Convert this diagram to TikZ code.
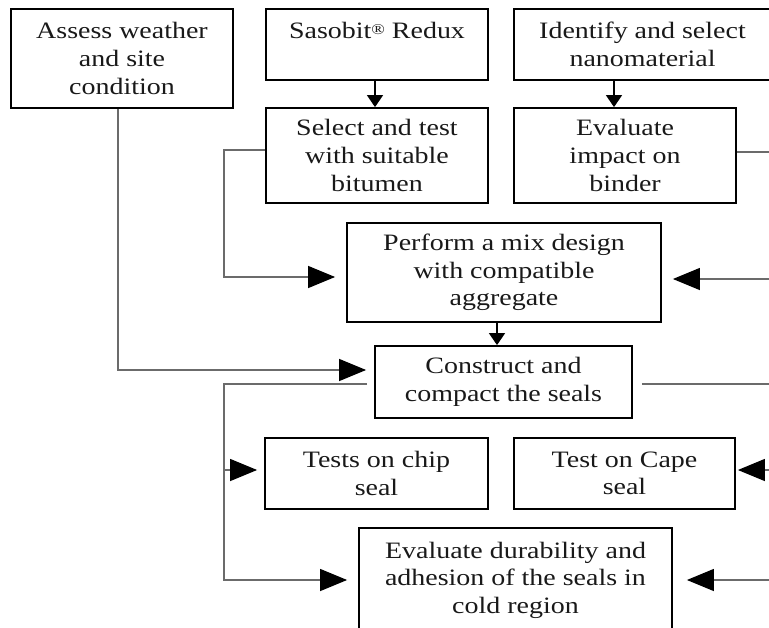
\documentclass[tikz,border=0pt]{standalone}
\usepackage{fontspec}
\setmainfont{Liberation Serif}[FakeStretch=1.19]
\usetikzlibrary{arrows.meta,calc}
\begin{document}
\begin{tikzpicture}[x=1pt,y=-1pt,
  box/.style={draw=black,line width=1.8pt,inner sep=0pt,align=center,
    font=\fontsize{23.5}{27.6}\selectfont,text=black!90},
  gline/.style={draw=black!58,line width=1.3pt},
  bigtip/.style={gline,-{Triangle[length=27pt,width=22pt,color=black]}},
  smalltip/.style={draw=black,line width=1.5pt,-{Triangle[length=12pt,width=16pt,color=black]}}
]
\useasboundingbox (0,0) rectangle (769,627);
\clip (0,0) rectangle (769,627);

\node[box,minimum width=222pt,minimum height=99pt] (assess) at (122,58.5) {Assess weather\\and site\\condition};
\node[box,minimum width=222pt,minimum height=71pt] (sasobit) at (377,44.5) {Sasobit\raisebox{4.5pt}{\fontsize{15}{15}\selectfont ®} Redux\\\mbox{}};
\node[box,minimum width=257pt,minimum height=71pt] (identify) at (642.5,44.5) {Identify and select\\nanomaterial};
\node[box,minimum width=222pt,minimum height=95pt] (select) at (377,155.5) {Select and test\\with suitable\\bitumen};
\node[box,minimum width=222pt,minimum height=95pt] (evalimp) at (625,155.5) {Evaluate\\impact on\\binder};
\node[box,minimum width=314pt,minimum height=99pt] (perform) at (504,272.5) {Perform a mix design\\with compatible\\aggregate};
\node[box,minimum width=257pt,minimum height=72pt] (construct) at (503.5,382) {Construct and\\compact the seals};
\node[box,minimum width=223pt,minimum height=71pt] (chip) at (376.5,473.5) {Tests on chip\\seal};
\node[box,minimum width=221pt,minimum height=71pt] (cape) at (624.5,473.5) {Test on Cape\\seal};
\node[box,minimum width=313pt,minimum height=104pt] (durab) at (515.5,580) {Evaluate durability and\\adhesion of the seals in\\cold region};

% vertical short arrows
\coordinate (sa) at ([xshift=-2pt]select.north);
\draw[smalltip] (sa |- sasobit.south) -- (sa);
\coordinate (ia) at ([xshift=-11pt]evalimp.north);
\draw[smalltip] (ia |- identify.south) -- (ia);
\coordinate (pa) at ([xshift=-7pt]perform.south);
\draw[smalltip] (pa) -- (pa |- construct.north);

% left loops
\coordinate (jL) at (224,0);
\coordinate (P) at ([yshift=-4.5pt]perform.west);
\draw[bigtip,shorten >=11pt] ([yshift=5.5pt]select.west) -| (jL |- P) -- (P);
\coordinate (aa) at ([xshift=-4pt]assess.south);
\coordinate (C) at ([yshift=12pt]construct.west);
\draw[bigtip,shorten >=8pt] (aa) |- (C);
\coordinate (D) at (durab.west);
\draw[bigtip,shorten >=11pt] ([yshift=-2pt,xshift=-7pt]construct.west) -| (jL |- D) -- (D);
\coordinate (Ch) at ([yshift=3.5pt]chip.west);
\draw[bigtip,shorten >=7pt] (jL |- Ch) -- (Ch);

% right side
\draw[gline] ([yshift=3.5pt]evalimp.east) -- ++(60pt,0);
\draw[bigtip,shorten >=11pt] ([xshift=130pt,yshift=-6.5pt]perform.east) -- ([yshift=-6.5pt]perform.east);
\draw[gline] ([yshift=-2pt,xshift=9pt]construct.east) -- ++(160pt,0);
\draw[bigtip,shorten >=2pt] ([xshift=60pt,yshift=3.5pt]cape.east) -- ([yshift=3.5pt]cape.east);
\draw[bigtip,shorten >=14pt] ([xshift=120pt]durab.east) -- (durab.east);
\end{tikzpicture}
\end{document}
